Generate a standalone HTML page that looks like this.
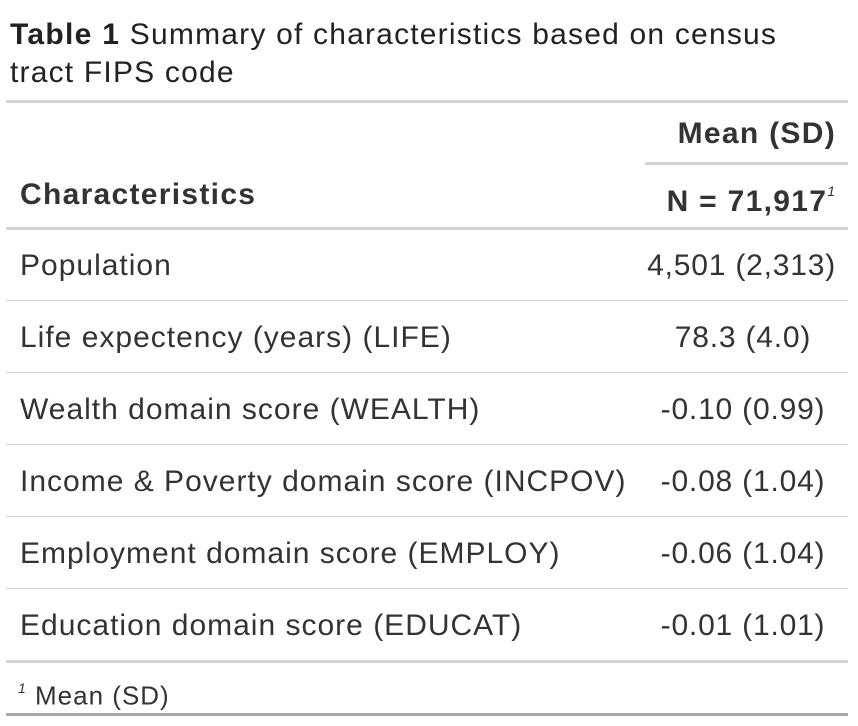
<!DOCTYPE html>
<html><head><style>
body{margin:0;width:858px;height:726px;background:#fff;font-family:"Liberation Sans",Arial,sans-serif;color:#333;position:relative;overflow:hidden}
.t{position:absolute;white-space:nowrap;font-size:30px;line-height:32px;letter-spacing:1px}
.r{text-align:right;right:22px}
.c{position:absolute;white-space:nowrap;font-size:30px;line-height:32px;letter-spacing:0.8px;width:200px;text-align:center;left:643px}
.l{position:absolute;left:6px;width:842px;background:#d3d3d3}
b{font-weight:bold;letter-spacing:1.3px}
</style></head><body>
<div class="t" style="left:10px;top:19px;color:#222;letter-spacing:1.2px"><b>Table 1</b> Summary of characteristics based on census</div>
<div class="t" style="left:10px;top:57px;color:#222;letter-spacing:1.2px">tract FIPS code</div>
<div class="l" style="top:100px;height:3px"></div>
<div class="t r" style="top:118px"><b>Mean (SD)</b></div>
<div class="l" style="top:162px;height:3px;left:645px;width:203px"></div>
<div class="t" style="left:20px;top:179px"><b>Characteristics</b></div>
<div class="t r" style="top:179px;right:22px"><b>N = 71,917</b><sup style="font-size:14px;font-style:italic;position:relative;top:-4px;font-weight:normal">1</sup></div>
<div class="l" style="top:227px;height:3px"></div>
<div class="t r" style="top:250px;letter-spacing:0.8px">4,501 (2,313)</div><div class="t" style="left:20px;top:250px">Population</div>
<div class="l" style="top:300px;height:1px"></div>
<div class="t" style="left:20px;top:322px">Life expectency (years) (LIFE)</div><div class="c" style="top:322px">78.3 (4.0)</div>
<div class="l" style="top:372px;height:1px"></div>
<div class="t" style="left:20px;top:394px">Wealth domain score (WEALTH)</div><div class="c" style="top:394px">-0.10 (0.99)</div>
<div class="l" style="top:444px;height:1px"></div>
<div class="t" style="left:20px;top:466px">Income &amp; Poverty domain score (INCPOV)</div><div class="c" style="top:466px">-0.08 (1.04)</div>
<div class="l" style="top:516px;height:1px"></div>
<div class="t" style="left:20px;top:538px">Employment domain score (EMPLOY)</div><div class="c" style="top:538px">-0.06 (1.04)</div>
<div class="l" style="top:588px;height:1px"></div>
<div class="t" style="left:20px;top:610px">Education domain score (EDUCAT)</div><div class="c" style="top:610px">-0.01 (1.01)</div>
<div class="l" style="top:660px;height:3px"></div>
<div class="t" style="left:18px;top:674px;font-size:26px;letter-spacing:1px"><sup style="font-size:14px;font-style:italic;position:relative;top:-2px">1</sup> Mean (SD)</div>
<div class="l" style="top:713px;height:3px;background:#a8a8a8"></div>
</body></html>
